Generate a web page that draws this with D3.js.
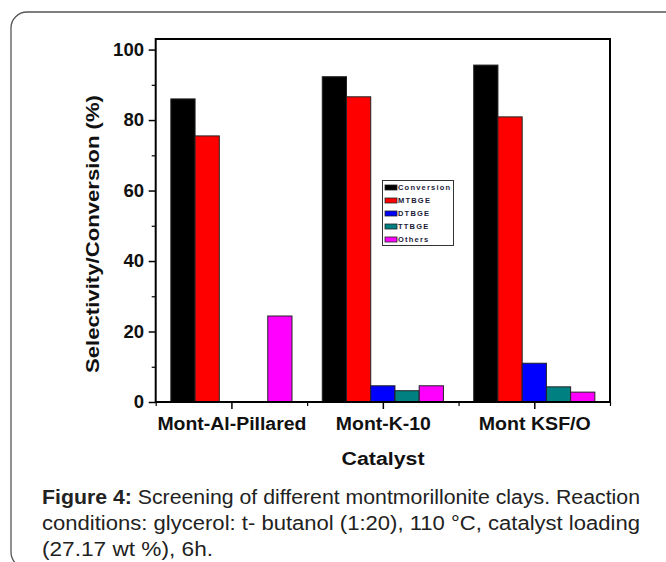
<!DOCTYPE html>
<html>
<head>
<meta charset="utf-8">
<script src="https://cdn.jsdelivr.net/npm/d3@7"></script>
<style>
  html, body { margin: 0; padding: 0; background: #fff; }
  svg { display: block; }
  text { font-family: "Liberation Sans", Arial, Helvetica, sans-serif; }
</style>
</head>
<body>
<svg id="chart" width="666" height="562"></svg>
<script>
// Catalysts screened and the measured conversion / selectivities (%)
const catalysts = ["Mont-Al-Pillared", "Mont-K-10", "Mont KSF/O"];
const seriesNames = ["Conversion", "MTBGE", "DTBGE", "TTBGE", "Others"];
const seriesColors = ["#000000", "#ff0000", "#0000ff", "#008080", "#ff00ff"];
const conversion = [86.0, 92.3, 95.6];
const mtbge = [75.5, 86.6, 80.9];
const dtbge = [0, 4.6, 11.0];
const ttbge = [0, 3.2, 4.3];
const others = [24.4, 4.6, 2.8];
const yTicks = [0, 20, 40, 60, 80, 100];
const yMinorTicks = [10, 30, 50, 70, 90];
const captionLines = [
  ["Figure 4:", " Screening of different montmorillonite clays. Reaction"],
  ["", "conditions: glycerol: t- butanol (1:20), 110 °C, catalyst loading"],
  ["", "(27.17 wt %), 6h."]
];

const seriesValues = [conversion, mtbge, dtbge, ttbge, others];

const svg = d3.select("#chart");

// rounded card around figure and caption
svg.append("rect")
  .attr("x", 11).attr("y", 12)
  .attr("width", 680).attr("height", 556)
  .attr("rx", 16).attr("ry", 16)
  .attr("fill", "none")
  .attr("stroke", "#555")
  .attr("stroke-width", 1.3);

const plot = { left: 155.7, right: 610, top: 39, bottom: 402 };

const x = d3.scaleLinear().domain([0.5, 3.5]).range([plot.left, plot.right]);
const y = d3.scaleLinear().domain([0, 103]).range([plot.bottom, plot.top]);

const barW = 0.16; // bar width in category units

// bars
const bars = [];
seriesValues.forEach((vals, si) => {
  vals.forEach((v, ci) => {
    if (v > 0) bars.push({ si, ci, v });
  });
});

const barX0 = d => x(d.ci + 1 + (d.si - 2.5) * barW);
const barX1 = d => x(d.ci + 1 + (d.si - 1.5) * barW);

svg.append("g").selectAll("rect")
  .data(bars)
  .join("rect")
  .attr("x", barX0)
  .attr("width", d => barX1(d) - barX0(d))
  .attr("y", d => y(d.v))
  .attr("height", d => y(0) - y(d.v))
  .attr("fill", d => seriesColors[d.si])
  .attr("stroke", "#222")
  .attr("stroke-width", 1);

// frame
svg.append("rect")
  .attr("x", plot.left).attr("y", plot.top)
  .attr("width", plot.right - plot.left)
  .attr("height", plot.bottom - plot.top)
  .attr("fill", "none")
  .attr("stroke", "#000")
  .attr("stroke-width", 2);

// y axis
const yAxis = svg.append("g")
  .attr("transform", `translate(${plot.left},0)`)
  .call(d3.axisLeft(y).tickValues(yTicks).tickSize(7).tickPadding(4).tickFormat(d3.format("d")));
yAxis.select(".domain").remove();
yAxis.selectAll(".tick line").attr("stroke", "#000").attr("stroke-width", 1.5);
yAxis.selectAll(".tick text")
  .attr("font-size", 17.5).attr("font-weight", "bold").attr("fill", "#111")
  .attr("font-family", "'Liberation Sans', Arial, sans-serif")
  .attr("transform", "scale(1.06,1)");

const yMinor = svg.append("g")
  .attr("transform", `translate(${plot.left},0)`)
  .call(d3.axisLeft(y).tickValues(yMinorTicks).tickSize(4).tickFormat(""));
yMinor.select(".domain").remove();
yMinor.selectAll(".tick line").attr("stroke", "#000").attr("stroke-width", 1.2);

// x axis
const xAxis = svg.append("g")
  .attr("transform", `translate(0,${plot.bottom})`)
  .call(d3.axisBottom(x).tickValues([1, 2, 3]).tickSize(7).tickPadding(9)
    .tickFormat(d => catalysts[d - 1]));
xAxis.select(".domain").remove();
xAxis.selectAll(".tick line").attr("stroke", "#000").attr("stroke-width", 1.5);
xAxis.selectAll(".tick text")
  .attr("font-size", 17.5).attr("font-weight", "bold").attr("fill", "#111")
  .attr("font-family", "'Liberation Sans', Arial, sans-serif")
  .attr("textLength", (d, i) => [149, 95, 112][i])
  .attr("lengthAdjust", "spacingAndGlyphs");

const xMinor = svg.append("g")
  .attr("transform", `translate(0,${plot.bottom})`)
  .call(d3.axisBottom(x).tickValues([0.5, 1.5, 2.5, 3.5]).tickSize(4).tickFormat(""));
xMinor.select(".domain").remove();
xMinor.selectAll(".tick line").attr("stroke", "#000").attr("stroke-width", 1.2);

// axis titles
svg.append("text")
  .attr("transform", "translate(99,234) rotate(-90)")
  .attr("text-anchor", "middle")
  .attr("font-size", 18).attr("font-weight", "bold").attr("fill", "#111")
  .attr("textLength", 278).attr("lengthAdjust", "spacingAndGlyphs")
  .text("Selectivity/Conversion (%)");

svg.append("text")
  .attr("x", 383).attr("y", 465)
  .attr("text-anchor", "middle")
  .attr("font-size", 18).attr("font-weight", "bold").attr("fill", "#111")
  .attr("textLength", 83).attr("lengthAdjust", "spacingAndGlyphs")
  .text("Catalyst");

// legend
const legend = svg.append("g");
legend.append("rect")
  .attr("x", 382.5).attr("y", 180.5)
  .attr("width", 71).attr("height", 65)
  .attr("fill", "#fff")
  .attr("stroke", "#333").attr("stroke-width", 1);

const rows = legend.selectAll("g.row")
  .data(seriesNames)
  .join("g")
  .attr("class", "row")
  .attr("transform", (d, i) => `translate(385,${187.5 + i * 13})`);
rows.append("rect")
  .attr("x", 0).attr("y", -2.5)
  .attr("width", 12).attr("height", 5)
  .attr("fill", (d, i) => seriesColors[i])
  .attr("stroke", "#222").attr("stroke-width", 0.8);
rows.append("text")
  .attr("x", 13).attr("y", 0).attr("dy", "0.35em")
  .attr("font-size", 7.5).attr("font-weight", "bold").attr("fill", "#1c1c3a")
  .attr("letter-spacing", 1.2)
  .text(d => d);

// caption
const cap = svg.append("g");
const capY = [504, 530, 556];
const capLen = [598, 598, 171];
captionLines.forEach((ln, i) => {
  const t = cap.append("text")
    .attr("x", 42).attr("y", capY[i])
    .attr("font-size", 19.5).attr("fill", "#222")
    .attr("textLength", capLen[i]).attr("lengthAdjust", "spacingAndGlyphs");
  if (ln[0]) t.append("tspan").attr("font-weight", "bold").text(ln[0]);
  t.append("tspan").text(ln[1]);
});
</script>
</body>
</html>
